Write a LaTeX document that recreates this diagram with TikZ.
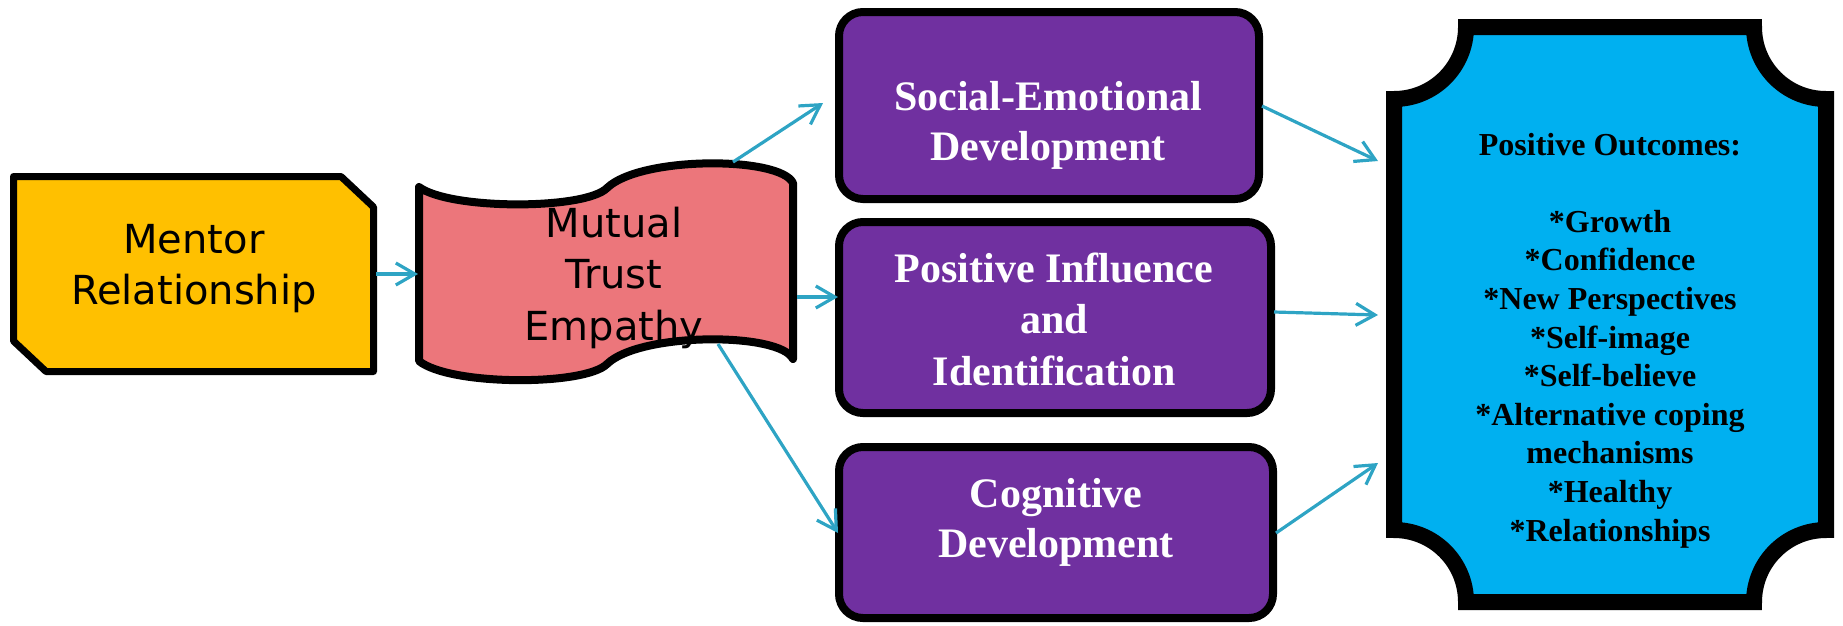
\documentclass[tikz,border=0pt]{standalone}
\usepackage{fontspec}
\setmainfont{Liberation Serif}
\newfontfamily\sansf{DejaVu Sans}
\usetikzlibrary{arrows.meta}
\definecolor{goldc}{HTML}{FFC000}
\definecolor{pinkc}{HTML}{EC767B}
\definecolor{purplec}{HTML}{7030A0}
\definecolor{bluec}{HTML}{00B0F0}
\definecolor{tealc}{RGB}{46,164,196}
\begin{document}
\begin{tikzpicture}[x=1pt,y=-1pt,
  sanstext/.style={font=\sansf\fontsize{40pt}{51pt}\selectfont, inner sep=0pt, anchor=base, text=black},
  purpletext/.style={font=\bfseries\fontsize{42pt}{#1}\selectfont, inner sep=0pt, anchor=base, text=white},
  bluetext/.style={font=\bfseries\fontsize{32pt}{38.6pt}\selectfont, inner sep=0pt, anchor=base, text=black},
  purplebox/.style={draw=black, line width=8pt, fill=purplec, rounded corners=24pt},
  conn/.style={draw=tealc, line width=3.2pt, -{Straight Barb[length=19pt,width=22pt,line width=3.2pt]}}
]
\useasboundingbox (0,0) rectangle (1843,625);

% Mentor box
\draw[line width=7pt, line join=round, fill=goldc]
  (13.5,176.5) -- (341,176.5) -- (373.5,207) -- (373.5,371.5) -- (46,371.5) -- (13.5,341) -- cycle;
\node[sanstext] (mentor) at (194,253) {\begin{tabular}[t]{@{}c@{}}Mentor\\Relationship\end{tabular}};

% Wave shape
\draw[line width=8pt, line join=round, line cap=round, fill=pinkc]
  (419,187) .. controls (450,210) and (585,210) .. (607,188)
  .. controls (640,156) and (780,156) .. (793,183)
  -- (793,359)
  .. controls (780,332) and (640,332) .. (607,364)
  .. controls (585,386) and (450,386) .. (419,361) -- cycle;
\node[sanstext, font=\sansf\fontsize{40pt}{51.5pt}\selectfont] (mutual) at (614,237) {\begin{tabular}[t]{@{}c@{}}Mutual\\Trust\\Empathy\end{tabular}};

% Purple boxes
\draw[purplebox] (839,12) rectangle (1259,199);
\node[purpletext=50pt] (social) at (1048,110) {\begin{tabular}[t]{@{}c@{}}Social-Emotional\\Development\end{tabular}};
\draw[purplebox] (839,222) rectangle (1271,413);
\node[purpletext=51.5pt] (influence) at (1054,282) {\begin{tabular}[t]{@{}c@{}}Positive Influence\\and\\Identification\end{tabular}};
\draw[purplebox] (839,447) rectangle (1273,618);
\node[purpletext=50pt] (cognitive) at (1056,507) {\begin{tabular}[t]{@{}c@{}}Cognitive\\Development\end{tabular}};

% Blue plaque
\draw[line width=16pt, line join=miter, fill=bluec]
  (1466,27) -- (1754,27) .. controls (1754,66.8) and (1786.2,99) .. (1826,99)
  -- (1826,530) .. controls (1786.2,530) and (1754,562.2) .. (1754,602)
  -- (1466,602) .. controls (1466,562.2) and (1433.8,530) .. (1394,530)
  -- (1394,99) .. controls (1433.8,99) and (1466,66.8) .. (1466,27) -- cycle;
\node[bluetext] (outcomes) at (1610,155) {\begin{tabular}[t]{@{}c@{}}Positive Outcomes:\\{}\\{}*Growth\\{}*Confidence\\{}*New Perspectives\\{}*Self-image\\{}*Self-believe\\{}*Alternative coping\\mechanisms\\{}*Healthy\\{}*Relationships\end{tabular}};

% connector end points
\coordinate (mE) at (376,274);
\coordinate (wW) at (418,274);
\coordinate (wT) at (733,162);
\coordinate (s1W) at (823,103);
\coordinate (wR) at (797,297);
\coordinate (s2W) at (838,297);
\coordinate (wB) at (718,344);
\coordinate (s3W) at (838,533);
\coordinate (s1E) at (1262,106);
\coordinate (oA) at (1378,161);
\coordinate (s2E) at (1274,312);
\coordinate (oB) at (1378,315);
\coordinate (s3E) at (1276,533);
\coordinate (oC) at (1378,463);

\draw[conn] (mE) -- (wW);
\draw[conn] (wT) -- (s1W);
\draw[conn] (wR) -- (s2W);
\draw[conn] (wB) -- (s3W);
\draw[conn] (s1E) -- (oA);
\draw[conn] (s2E) -- (oB);
\draw[conn] (s3E) -- (oC);
\end{tikzpicture}
\end{document}
